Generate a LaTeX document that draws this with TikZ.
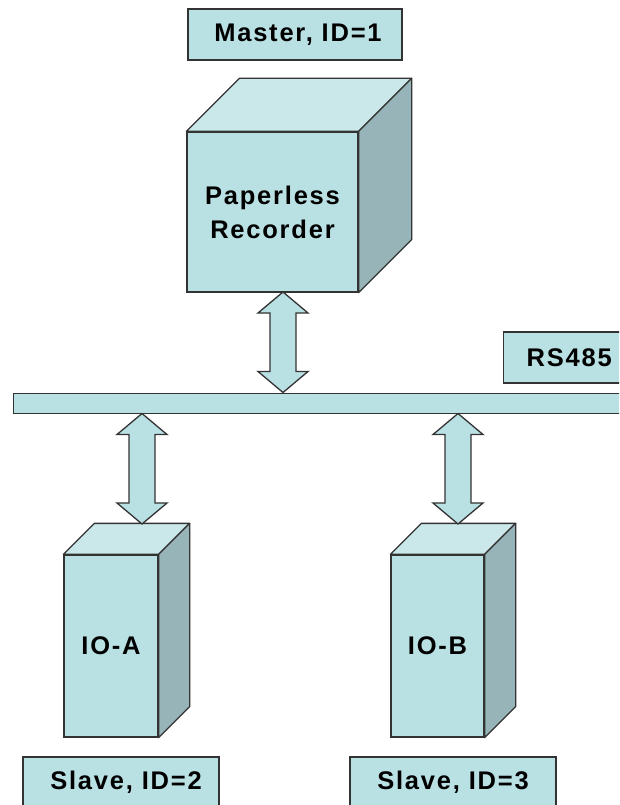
\documentclass[tikz,border=0pt]{standalone}
\usepackage{fontspec}
\usetikzlibrary{calc}
\setmainfont{Liberation Sans}[LetterSpace=7]
\definecolor{facec}{HTML}{B9E0E3}
\definecolor{topc}{HTML}{CAE7EA}
\definecolor{sidec}{HTML}{97B5B8}
\definecolor{edgec}{HTML}{333333}
\tikzset{
  face/.style={draw=edgec, fill=facec, line width=1.3pt, inner sep=0pt, align=center,
    font=\bfseries\fontsize{25.5}{34}\selectfont},
  topface/.style={draw=edgec, fill=topc, line width=1.3pt, line join=round},
  sideface/.style={draw=edgec, fill=sidec, line width=1.3pt, line join=round},
  labelbox/.style={draw=edgec, fill=facec, line width=1.3pt, inner sep=0pt,
    font=\bfseries\fontsize{25.5}{34}\selectfont},
  arrowsty/.style={draw=edgec, fill=facec, line width=1.3pt, line join=miter},
}
\newcommand\bidiarrow[2]{%
  \path[arrowsty] let \p1=(#1), \p2=(#2) in
    (\x1,\y1) -- ({\x1+25pt},{\y1-21pt}) -- ({\x1+13pt},{\y1-21pt})
    -- ({\x1+13pt},{\y2+21pt}) -- ({\x1+25pt},{\y2+21pt}) -- (\x2,\y2)
    -- ({\x1-25pt},{\y2+21pt}) -- ({\x1-13pt},{\y2+21pt})
    -- ({\x1-13pt},{\y1-21pt}) -- ({\x1-25pt},{\y1-21pt}) -- cycle;}
\newcommand\cubesides[2]{% node name, depth
  \path[topface] (#1.north west) -- ++(#2,-#2) -- ([xshift=#2 pt,yshift=#2 pt]#1.north east) -- (#1.north east) -- cycle;
  \path[sideface] (#1.north east) -- ++(#2,-#2) -- ([xshift=#2 pt,yshift=#2 pt]#1.south east) -- (#1.south east) -- cycle;}
\begin{document}
\begin{tikzpicture}[x=1pt,y=-1pt]
\useasboundingbox (0,0) rectangle (619,805);
\clip (0,0) rectangle (619,805);
\fill[white] (0,0) rectangle (619,805);

% Master label
\node[labelbox, minimum width=214pt, minimum height=51pt] (master) at (295,34.5) {\hspace{6pt}Master, ID=1};

% Paperless recorder cube
\node[face, minimum width=171pt, minimum height=160pt] (rec) at (272.5,212) {Paperless\\Recorder};
\cubesides{rec}{53}

% RS485 label
\node[labelbox, anchor=west, inner xsep=23pt, minimum height=51pt, text width=100pt, align=left] (rs) at (503,357.5) {RS485};

% bus
\node[draw=edgec, fill=facec, line width=1.3pt, inner sep=0pt, anchor=north west, minimum width=640pt, minimum height=20pt] (bus) at (13,393) {};

% IO-A cube
\node[face, minimum width=94pt, minimum height=182pt] (ioa) at (111,646) {IO-A};
\cubesides{ioa}{31}
% IO-B cube
\node[face, minimum width=93pt, minimum height=182pt] (iob) at (437.5,646) {IO-B};
\cubesides{iob}{31}

% slave labels
\node[labelbox, minimum width=196pt, minimum height=51pt] (sa) at (121,782.5) {\hspace{10pt}Slave, ID=2};
\node[labelbox, minimum width=206pt, minimum height=51pt] (sb) at (453,782.5) {Slave, ID=3};

% arrows
\coordinate (t1) at (283,292);
\coordinate (b1) at (283,392.5);
\coordinate (t2) at (142,413.5);
\coordinate (b2) at (142,524);
\coordinate (t3) at (458,413.5);
\coordinate (b3) at (458,524);
\bidiarrow{t1}{b1}
\bidiarrow{t2}{b2}
\bidiarrow{t3}{b3}
\end{tikzpicture}
\end{document}
